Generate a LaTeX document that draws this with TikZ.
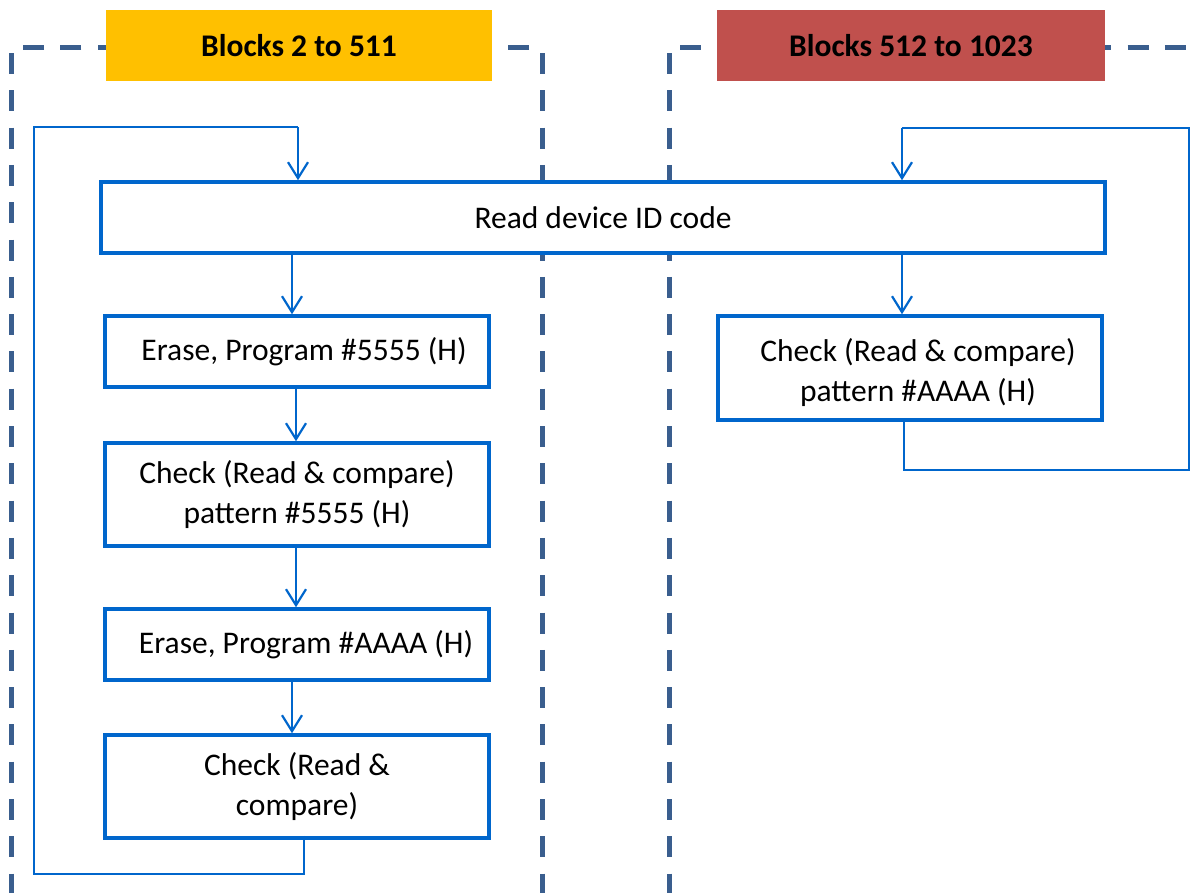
\documentclass[tikz,border=0pt]{standalone}
\usepackage{fontspec}
\setmainfont{Carlito}
\usetikzlibrary{arrows.meta,calc}
\definecolor{boxblue}{HTML}{0066CC}
\definecolor{dashblue}{HTML}{3A5E8E}
\definecolor{hdryellow}{HTML}{FFC000}
\definecolor{hdrred}{HTML}{C0504D}
\tikzset{
  region/.style={draw=dashblue,line width=5pt,dash pattern=on 21pt off 16.3pt},
  header/.style={inner sep=0pt,font=\fontsize{31.5}{38}\selectfont\bfseries,text=black},
  stepbox/.style={draw=boxblue,line width=3.5pt,fill=white,inner sep=0pt,align=center,
    font=\fontsize{31.5}{40}\selectfont},
  steptext/.style={inner sep=0pt,align=center,font=\fontsize{31.5}{40}\selectfont},
  conn/.style={draw=boxblue,line width=2.2pt,-{Straight Barb[length=16pt,width=20pt,line width=2.2pt]}},
  loopline/.style={draw=boxblue,line width=2.2pt}
}
\begin{document}
\begin{tikzpicture}[x=1pt,y=-1pt]
\useasboundingbox (0,0) rectangle (1194,892);
% dashed regions
\draw[region] (11.5,53) -- (11.5,900);
\draw[region] (529,47) -- (23,47);
\draw[region] (542,53) -- (542,900);
\draw[region] (669,53) -- (669,900);
\draw[region] (680,47.5) -- (1200,47.5);
% headers
\node[header,fill=hdryellow,minimum width=386pt,minimum height=71pt] (h1) at (299,45.5) {Blocks 2 to 511};
\node[header,fill=hdrred,minimum width=388pt,minimum height=71pt] (h2) at (911,45.5) {Blocks 512 to 1023};
% boxes
\node[stepbox,minimum width=1004pt,minimum height=71pt] (read) at (603,217.5) {Read device ID code};
\node[stepbox,minimum width=384pt,minimum height=71pt] (e1) at (297,351.5) {\hspace*{14pt}Erase, Program \#5555 (H)};
\node[stepbox,minimum width=384pt,minimum height=103pt] (c1) at (297,494.5) {Check (Read \& compare)\\pattern \#5555 (H)};
\node[stepbox,minimum width=384pt,minimum height=71pt] (e2) at (297,644.5) {\hspace*{18pt}Erase, Program \#AAAA (H)};
\node[stepbox,minimum width=384pt,minimum height=103pt] (c2) at (297,786.5) {Check (Read \&\\compare)};
\node[stepbox,minimum width=384pt,minimum height=104pt] (rc) at (910,368) {};
\node[steptext] (rct) at ($(rc.center)+(8,5)$) {Check (Read \& compare)\\pattern \#AAAA (H)};
% straight connectors
\draw[conn] ($(read.south -| e1.north)+(-5,0)$) -- ($(e1.north)+(-5,0)$);
\draw[conn] ($(e1.south)+(-1,0)$) -- ($(c1.north)+(-1,0)$);
\draw[conn] ($(c1.south)+(-1,0)$) -- ($(e2.north)+(-1,0)$);
\draw[conn] ($(e2.south)+(-5,0)$) -- ($(c2.north)+(-5,0)$);
\draw[conn] ($(read.south -| rc.north)+(-8,0)$) -- ($(rc.north)+(-8,0)$);
% loops
\coordinate (lb) at (34,874);
\coordinate (lt) at (34,127);
\draw[loopline] ($(c2.south)+(7,-4)$) |- (lb) -- (lt) -- ($(lt -| e1.north)+(1,0)$);
\draw[conn] ($(lt -| e1.north)+(1,0)$) -- ($(read.north -| e1.north)+(1,0)$);
\coordinate (rb) at (1189,470);
\coordinate (rt) at (1189,128);
\draw[loopline] ($(rc.south)+(-6,0)$) |- (rb) -- (rt) -- ($(rt -| rc.north)+(-8,0)$);
\draw[conn] ($(rt -| rc.north)+(-8,0)$) -- ($(read.north -| rc.north)+(-8,0)$);
\end{tikzpicture}
\end{document}
